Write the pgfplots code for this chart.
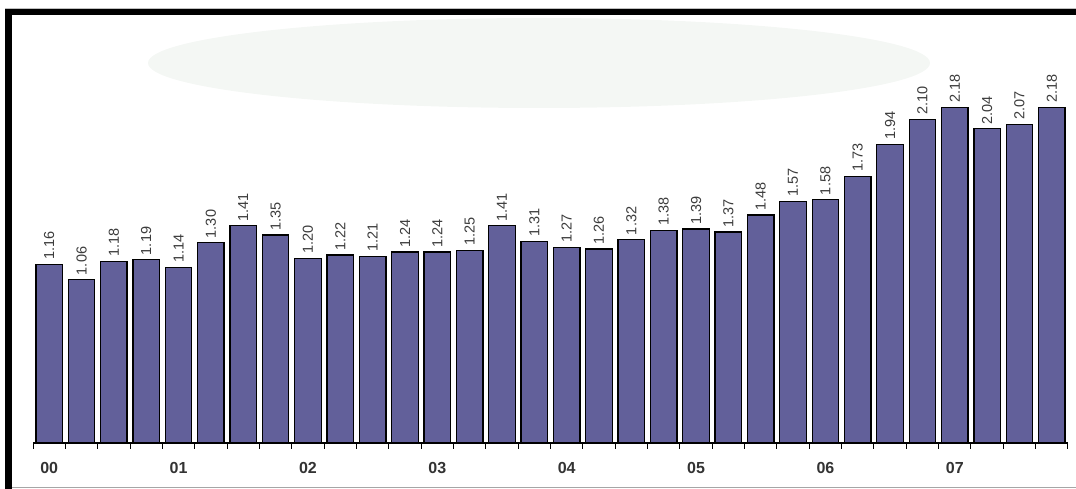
\documentclass[border=0pt]{standalone}
\usepackage{pgfplots}
\pgfplotsset{compat=1.18}
\usepackage{fontspec}
\setmainfont{Liberation Sans}
\definecolor{barfill}{RGB}{98,96,154}
\definecolor{blob}{RGB}{244,247,244}
\definecolor{labelgray}{RGB}{60,60,60}

\begin{document}
\begin{tikzpicture}[x=1pt,y=1pt]
% pale backdrop behind the upper bars
\fill[blob] (539,426) ellipse [x radius=391, y radius=45];
% frame
\fill[black] (5,0) rectangle (12,480);
\fill[black] (5,474) rectangle (1076,480);
\draw[gray!70, line width=0.8pt] (12,1.5) -- (1076,1.5);
\draw[gray!50, line width=0.6pt] (5,481) -- (1076,481);

\begin{axis}[
  at={(33pt,46pt)}, anchor=south west,
  scale only axis, width=1035pt, height=428pt,
  xmin=-0.5, xmax=31.5, ymin=0, ymax=2.779,
  axis x line=bottom, axis y line=none,
  axis line style={-, black, line width=1.2pt},
  xtick={-0.5,0.5,...,31.5}, xticklabels={},
  tick align=outside, major tick length=6pt,
  tick style={black, line width=1pt},
  extra x ticks={0,4,8,12,16,20,24,28},
  extra x tick labels={00,01,02,03,04,05,06,07},
  extra x tick style={major tick length=0pt,
    tick label style={anchor=north, yshift=-16pt,
      font=\fontsize{16}{16}\selectfont\bfseries, text=black!80}},
  clip=false,
  ybar, bar width=26.5pt,
  nodes near coords={\pgfmathprintnumber[fixed,fixed zerofill,precision=2,assume math mode=true]{\pgfplotspointmeta}},
  every node near coord/.append style={rotate=90, anchor=west,
    font=\fontsize{14.5}{14.5}\selectfont, text=labelgray, inner sep=4pt},
]
\addplot[fill=barfill, draw=black, line width=1.3pt] coordinates {
  (0,1.16) (1,1.06) (2,1.18) (3,1.19) (4,1.14) (5,1.30) (6,1.41) (7,1.35)
  (8,1.20) (9,1.22) (10,1.21) (11,1.24) (12,1.24) (13,1.25) (14,1.41) (15,1.31)
  (16,1.27) (17,1.26) (18,1.32) (19,1.38) (20,1.39) (21,1.37) (22,1.48) (23,1.57)
  (24,1.58) (25,1.73) (26,1.94) (27,2.10) (28,2.18) (29,2.04) (30,2.07) (31,2.18)
};
\end{axis}
\pgfresetboundingbox
\path[use as bounding box] (0,0) rectangle (1076,489);
\end{tikzpicture}
\end{document}
